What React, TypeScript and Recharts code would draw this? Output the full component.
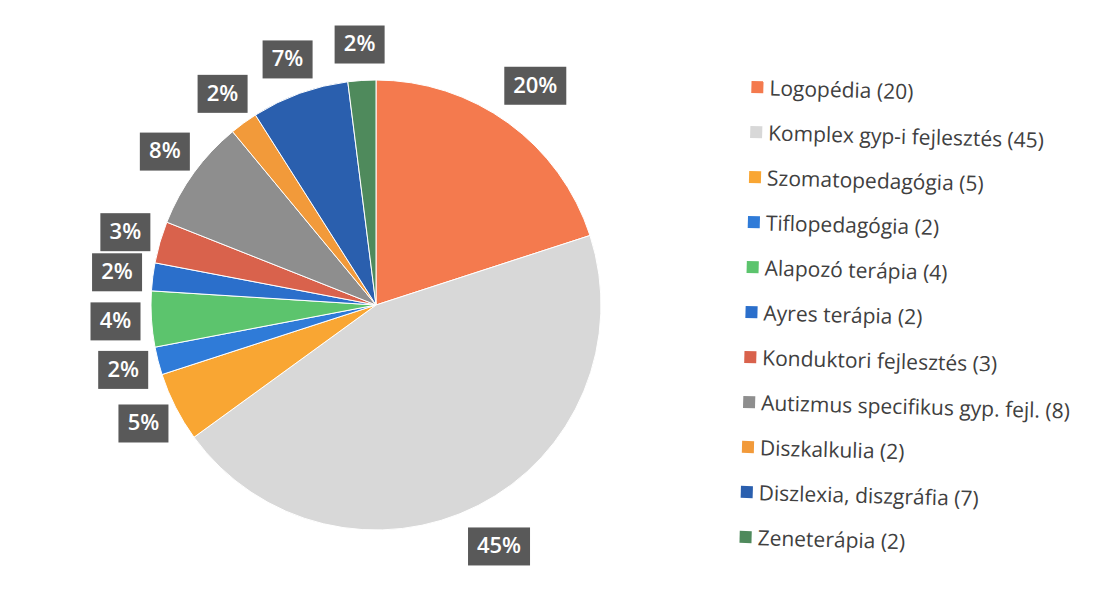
import React from 'react'
import { PieChart, Pie, Cell, Legend } from 'recharts'

const categories = [
  'Logopédia',
  'Komplex gyp-i fejlesztés',
  'Szomatopedagógia',
  'Tiflopedagógia',
  'Alapozó terápia',
  'Ayres terápia',
  'Konduktori fejlesztés',
  'Autizmus specifikus gyp. fejl.',
  'Diszkalkulia',
  'Diszlexia, diszgráfia',
  'Zeneterápia',
]
const counts = [20, 45, 5, 2, 4, 2, 3, 8, 2, 7, 2]
const colors = [
  '#F47A4E',
  '#D8D8D8',
  '#F9A633',
  '#2F7BD8',
  '#5CC46D',
  '#2B6FCB',
  '#D9624C',
  '#8E8E8E',
  '#F29A3A',
  '#2A5FAE',
  '#4F8A5C',
]

const chartData = categories.map((name, i) => ({ name, value: counts[i] }))

const RADIAN = Math.PI / 180
const FONT = '"Open Sans", "Noto Sans", sans-serif'

// dark boxed percent labels, placed outside the slice along its mid angle
function renderLabel(props: any) {
  const { cx, cy, midAngle, outerRadius, percent } = props
  const text = `${Math.round(percent * 100)}%`
  const w = text.length > 2 ? 62 : 50
  const h = 38
  const r = outerRadius + (text.length > 2 ? 46 : 36)
  const x = cx + r * Math.cos(-midAngle * RADIAN)
  const y = cy + r * Math.sin(-midAngle * RADIAN)
  return (
    <g>
      <rect x={x - w / 2} y={y - h / 2} width={w} height={h} fill="#595959" />
      <text
        x={x}
        y={y + 1}
        fill="#ffffff"
        fontSize={22}
        fontWeight={600}
        fontFamily={FONT}
        textAnchor="middle"
        dominantBaseline="middle"
      >
        {text}
      </text>
    </g>
  )
}

function LegendList() {
  return (
    <div style={{ transform: 'rotate(1.5deg)', transformOrigin: '0 0' }}>
      {chartData.map((d, i) => (
        <div
          key={d.name}
          style={{ display: 'flex', alignItems: 'center', height: 45, fontFamily: FONT, fontSize: 21, color: '#404040' }}
        >
          <span style={{ width: 12, height: 12, background: colors[i], marginRight: 6, display: 'inline-block' }} />
          <span>{`${d.name} (${d.value})`}</span>
        </div>
      ))}
    </div>
  )
}

export default function App() {
  return (
    <div style={{ position: 'absolute', left: 0, top: 0, width: 1096, height: 602, background: '#ffffff' }}>
      <PieChart width={1096} height={602} margin={{ top: 0, right: 0, bottom: 0, left: 0 }}>
        <Pie
          data={chartData}
          dataKey="value"
          nameKey="name"
          cx={376}
          cy={305}
          outerRadius={225}
          startAngle={90}
          endAngle={-270}
          stroke="#ffffff"
          strokeWidth={1}
          label={renderLabel}
          labelLine={false}
          isAnimationActive={false}
        >
          {chartData.map((d, i) => (
            <Cell key={d.name} fill={colors[i]} />
          ))}
        </Pie>
        <Legend
          layout="vertical"
          content={() => <LegendList />}
          wrapperStyle={{ left: 752, top: 64, width: 340 }}
        />
      </PieChart>
    </div>
  )
}
